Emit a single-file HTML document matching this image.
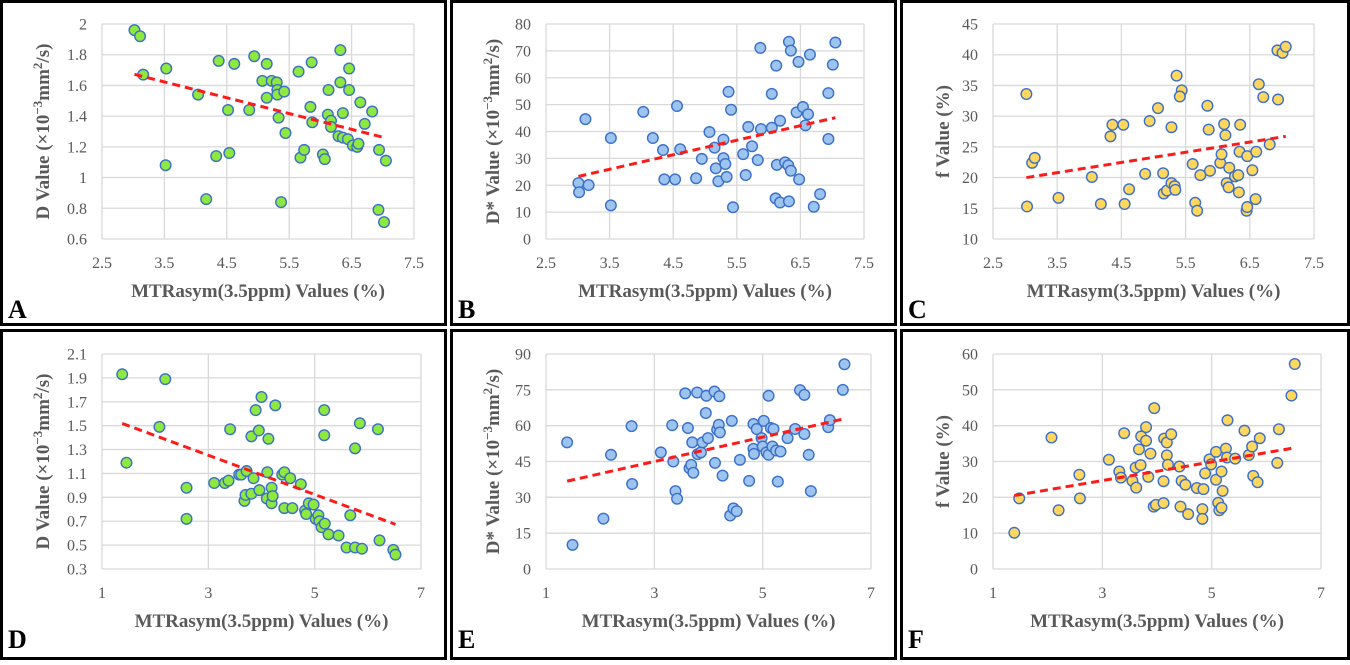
<!DOCTYPE html>
<html><head><meta charset="utf-8"><style>
html,body{margin:0;padding:0;background:#fff;}
svg, svg text, svg tspan{font-family:"Liberation Serif","DejaVu Serif",serif !important;}
</style></head><body>
<svg id="fig" width="1350" height="660" viewBox="0 0 1350 660" xmlns="http://www.w3.org/2000/svg" font-family="Liberation Serif, DejaVu Serif, serif"></svg>
<script>
// Panel A: D vs MTRasym (top)
const aX=[3.02,3.11,3.16,3.53,3.52,4.04,4.17,4.33,4.37,4.52,4.54,4.62,4.86,4.94,5.07,5.14,5.14,5.22,5.30,5.31,5.31,5.42,5.33,5.44,5.37,5.65,5.68,5.74,5.86,5.84,5.87,6.04,6.07,6.13,6.12,6.17,6.17,6.32,6.32,6.36,6.29,6.36,6.44,6.46,6.46,6.52,6.59,6.61,6.64,6.71,6.83,6.94,7.05,6.93,7.02];
const aY=[1.96,1.92,1.67,1.71,1.08,1.54,0.86,1.14,1.76,1.44,1.16,1.74,1.44,1.79,1.63,1.74,1.52,1.63,1.62,1.57,1.54,1.56,1.39,1.29,0.84,1.69,1.13,1.18,1.75,1.46,1.36,1.15,1.12,1.57,1.41,1.37,1.33,1.83,1.62,1.42,1.27,1.26,1.25,1.71,1.57,1.21,1.20,1.22,1.49,1.35,1.43,1.18,1.11,0.79,0.71];
// Panel B: D* (top)
const bX=[3.01,3.02,3.17,3.12,3.52,3.52,4.03,4.18,4.34,4.36,4.53,4.56,4.61,4.86,4.95,5.07,5.15,5.17,5.21,5.29,5.29,5.32,5.34,5.37,5.41,5.44,5.60,5.64,5.68,5.74,5.83,5.87,5.88,6.05,6.05,6.12,6.13,6.11,6.18,6.18,6.26,6.31,6.35,6.32,6.35,6.32,6.44,6.47,6.48,6.54,6.58,6.62,6.65,6.71,6.81,6.94,6.94,7.01,7.05];
const bY=[20.8,17.4,20.1,44.6,37.6,12.5,47.3,37.6,33.1,22.2,22.2,49.5,33.4,22.6,29.8,39.8,34.0,26.3,21.5,37.0,30.1,27.9,23.1,54.8,48.1,11.8,31.6,23.8,41.7,34.5,29.4,71.1,40.9,54.0,41.4,64.5,27.6,15.1,13.6,44.0,28.5,27.4,25.4,73.4,70.1,14.0,47.1,65.9,22.2,49.1,42.3,46.4,68.6,12.0,16.7,54.3,37.2,64.9,73.1];
// Panel C: f (top)
const cX=[3.02,3.03,3.11,3.15,3.52,4.04,4.18,4.33,4.36,4.53,4.55,4.62,4.87,4.94,5.07,5.15,5.16,5.21,5.28,5.28,5.33,5.34,5.36,5.44,5.41,5.61,5.65,5.68,5.73,5.84,5.86,5.88,6.04,6.06,6.10,6.12,6.14,6.17,6.18,6.27,6.32,6.33,6.35,6.34,6.45,6.46,6.46,6.54,6.59,6.60,6.64,6.71,6.81,6.94,6.93,7.01,7.06];
const cY=[33.6,15.3,22.4,23.2,16.7,20.1,15.7,26.7,28.6,28.6,15.7,18.1,20.6,29.2,31.3,20.7,17.4,17.9,28.2,19.1,18.6,18.0,36.6,34.2,33.2,22.2,15.9,14.6,20.4,31.7,27.8,21.1,22.4,23.8,28.7,26.9,19.1,18.4,21.6,20.2,20.4,17.6,28.6,24.2,14.6,15.2,23.5,21.2,16.5,24.2,35.2,33.1,25.4,32.7,40.7,40.3,41.3];
// Panel D: D (bottom)
const dX=[1.38,1.46,2.08,2.19,2.59,2.59,3.11,3.31,3.38,3.41,3.58,3.62,3.72,3.68,3.70,3.81,3.81,3.85,3.89,3.95,3.96,4.00,4.10,4.11,4.13,4.19,4.19,4.21,4.26,4.39,4.43,4.43,4.54,4.58,4.74,4.82,4.84,4.89,4.98,5.02,5.07,5.09,5.13,5.19,5.18,5.18,5.26,5.45,5.60,5.67,5.76,5.89,5.76,5.85,6.22,6.19,6.48,6.52];
const dY=[1.93,1.19,1.49,1.89,0.98,0.72,1.02,1.02,1.04,1.47,1.09,1.09,1.12,0.87,0.92,0.93,1.41,1.06,1.63,1.46,0.96,1.74,0.89,1.11,1.39,0.85,0.98,0.91,1.67,1.09,1.11,0.81,1.06,0.81,1.01,0.79,0.76,0.85,0.84,0.72,0.75,0.70,0.65,0.68,1.63,1.42,0.59,0.58,0.48,0.75,0.48,0.47,1.31,1.52,0.54,1.47,0.46,0.42];
// Panel E: D* (bottom)
const eX=[1.39,1.49,2.06,2.20,2.58,2.59,3.12,3.33,3.35,3.39,3.42,3.57,3.62,3.65,3.68,3.70,3.72,3.79,3.80,3.86,3.89,3.95,3.96,3.99,4.11,4.12,4.16,4.19,4.20,4.21,4.26,4.43,4.40,4.46,4.52,4.58,4.75,4.83,4.83,4.84,4.89,4.98,5.00,5.02,5.07,5.11,5.11,5.15,5.18,5.20,5.25,5.28,5.33,5.46,5.60,5.69,5.77,5.77,5.85,5.89,6.21,6.24,6.48,6.51];
const eY=[53.0,10.1,21.1,47.8,59.8,35.6,48.8,60.2,45.0,32.6,29.4,73.5,59.0,42.2,43.6,53.0,40.3,73.9,48.1,48.8,53.0,65.3,72.5,54.8,74.3,44.4,58.3,60.4,72.3,57.2,39.1,62.0,22.4,25.4,24.2,45.7,36.9,60.7,50.3,48.2,58.6,54.8,51.3,62.0,48.8,47.8,72.5,59.0,51.3,58.6,49.6,36.6,49.2,54.8,58.6,74.9,72.9,56.5,47.8,32.6,59.4,62.3,75.0,85.7];
// Panel F: f (bottom)
const fX=[1.39,1.48,2.07,2.20,2.58,2.59,3.12,3.31,3.34,3.40,3.55,3.61,3.62,3.67,3.70,3.71,3.80,3.80,3.84,3.88,3.94,3.98,3.95,4.12,4.12,4.13,4.18,4.18,4.20,4.26,4.41,4.43,4.45,4.52,4.57,4.73,4.83,4.83,4.85,4.88,4.96,4.99,5.08,5.08,5.12,5.14,5.18,5.18,5.20,5.26,5.28,5.29,5.43,5.60,5.68,5.74,5.76,5.84,5.88,6.20,6.23,6.46,6.52];
const fY=[10.1,19.7,36.7,16.4,26.3,19.7,30.5,27.2,25.5,37.9,24.6,28.3,22.7,33.4,29.0,37.0,39.6,35.8,25.7,32.2,17.4,17.9,44.9,18.4,24.5,36.4,35.3,31.7,29.1,37.6,28.6,17.4,24.6,23.5,15.3,22.6,16.7,14.0,22.3,26.7,30.6,29.2,32.7,24.9,18.5,16.4,17.1,27.2,21.8,33.6,31.1,41.5,30.8,38.6,31.8,34.2,26.0,24.2,36.5,29.6,39.0,48.4,57.2];
const topXTicks=[2.5,3.5,4.5,5.5,6.5,7.5];
const botXTicks=[1,3,5,7];
const aTicks=[0.6,0.8,1,1.2,1.4,1.6,1.8,2];
const bTicks=[0,10,20,30,40,50,60,70,80];
const cTicks=[10,15,20,25,30,35,40,45];
const dTicks=[0.3,0.5,0.7,0.9,1.1,1.3,1.5,1.7,1.9,2.1];
const eTicks=[0,15,30,45,60,75,90];
const fTicks=[0,10,20,30,40,50,60];

const NS="http://www.w3.org/2000/svg";
const FONT='Liberation Serif, DejaVu Serif, serif';
const svg=document.getElementById('fig');
function mk(tag,attrs,parent){const e=document.createElementNS(NS,tag);for(const k in attrs)e.setAttribute(k,attrs[k]);if(tag==='text')e.setAttribute('font-family',FONT);(parent||svg).appendChild(e);return e;}

const GREEN={fill:'#8ee83e',stroke:'#3b6fc9'},BLUE={fill:'#9cc4ee',stroke:'#3b6fc9'},YEL={fill:'#ffd75e',stroke:'#3b6fc9'};
const panels=[
 {id:'a',letter:'A',fx:0,fy:0,fw:447,fh:326,L:102,R:414,T:24,B:239,xs:topXTicks,ys:aTicks,xd:aX,yd:aY,col:GREEN,title:'D',unit:true,lb:318},
 {id:'b',letter:'B',fx:450,fy:0,fw:447,fh:326,L:546,R:864,T:24,B:239,xs:topXTicks,ys:bTicks,xd:bX,yd:bY,col:BLUE,title:'D*',unit:true,lb:318},
 {id:'c',letter:'C',fx:900,fy:0,fw:450,fh:326,L:993,R:1314,T:24,B:239,xs:topXTicks,ys:cTicks,xd:cX,yd:cY,col:YEL,title:'f',unit:false,lb:318},
 {id:'d',letter:'D',fx:0,fy:329,fw:447,fh:331,L:102,R:421,T:354,B:569,xs:botXTicks,ys:dTicks,xd:dX,yd:dY,col:GREEN,title:'D',unit:true,lb:648},
 {id:'e',letter:'E',fx:450,fy:329,fw:447,fh:331,L:546,R:871,T:354,B:569,xs:botXTicks,ys:eTicks,xd:eX,yd:eY,col:BLUE,title:'D*',unit:true,lb:648},
 {id:'f',letter:'F',fx:900,fy:329,fw:450,fh:331,L:993,R:1321,T:354,B:569,xs:botXTicks,ys:fTicks,xd:fX,yd:fY,col:YEL,title:'f',unit:false,lb:648}
];
panels.forEach(p=>{
  const g=mk('g',{});
  
  
  const fr=mk('rect',{x:p.fx+1.5,y:p.fy+1.5,width:p.fw-3,height:p.fh-3,fill:'#fff',stroke:'#000','stroke-width':3},g);
  
  
  const x0=p.xs[0],x1=p.xs[p.xs.length-1],y0=p.ys[0],y1=p.ys[p.ys.length-1];
  const sx=v=>p.L+(v-x0)/(x1-x0)*(p.R-p.L);
  const sy=v=>p.B-(v-y0)/(y1-y0)*(p.B-p.T);
  p.ys.forEach(t=>{
    const ln=mk('line',{x1:p.L,x2:p.R,y1:sy(t),y2:sy(t),stroke:'#d9d9d9','stroke-width':1.3},g);
    
    
    const tx=mk('text',{x:p.L-15,y:sy(t)+5.5,'text-anchor':'end','font-size':16,fill:'#595959'},g);
    tx.textContent=String(t);
    
    
  });
  p.xs.forEach(t=>{
    const ln=mk('line',{y1:p.T,y2:p.B,x1:sx(t),x2:sx(t),stroke:'#d9d9d9','stroke-width':1.3},g);
    
    
    const tx=mk('text',{x:sx(t),y:p.B+29,'text-anchor':'middle','font-size':16,fill:'#595959'},g);
    tx.textContent=String(t);
    
    
  });
  const xt=mk('text',{x:(p.L+p.R)/2,y:p.B+58,'text-anchor':'middle','font-size':19,'font-weight':'bold',fill:'#595959'},g);
  xt.textContent='MTRasym(3.5ppm)  Values (%)';
  xt.setAttribute('xml:space','preserve');
  
  
  const cy=(p.T+p.B)/2, cx=p.fx+42;
  const yt=mk('text',{x:0,y:0,transform:`translate(${cx+7},${cy}) rotate(-90)`,'text-anchor':'middle','font-size':19,'font-weight':'bold',fill:'#595959'},g);
  
  
  if(p.unit){
    const s1=mk('tspan',{},yt);s1.textContent=p.title+' Value (\u00d710';
    const s2=mk('tspan',{dy:-7,'font-size':13},yt);s2.textContent='\u22123';
    const s3=mk('tspan',{dy:7},yt);s3.textContent='mm';
    const s4=mk('tspan',{dy:-7,'font-size':13},yt);s4.textContent='2';
    const s5=mk('tspan',{dy:7},yt);s5.textContent='/s)';
  } else {
    yt.textContent=p.title+'  Value (%)';
    yt.setAttribute('xml:space','preserve');
  }
  const n=p.xd.length;let mx=0,my=0;for(let i=0;i<n;i++){mx+=p.xd[i];my+=p.yd[i];}mx/=n;my/=n;
  let sxy=0,sxx=0;for(let i=0;i<n;i++){sxy+=(p.xd[i]-mx)*(p.yd[i]-my);sxx+=(p.xd[i]-mx)**2;}
  const k=sxy/sxx,b=my-k*mx;const xmin=Math.min(...p.xd),xmax=Math.max(...p.xd);
  for(let i=0;i<n;i++){
    const c=mk('circle',{cx:sx(p.xd[i]),cy:sy(p.yd[i]),r:5.3,fill:p.col.fill,stroke:p.col.stroke,'stroke-width':1.4},g);
    
    
  }
  const tl=mk('line',{x1:sx(xmin),y1:sy(k*xmin+b),x2:sx(xmax),y2:sy(k*xmax+b),stroke:'#ff1a1a','stroke-width':3,'stroke-dasharray':'8,5'},g);
  
  
  const lt=mk('text',{x:p.fx+8,y:p.lb,'font-size':26,'font-weight':'bold',fill:'#000'},g);
  lt.textContent=p.letter;
  
  
});
</script>
</body></html>
